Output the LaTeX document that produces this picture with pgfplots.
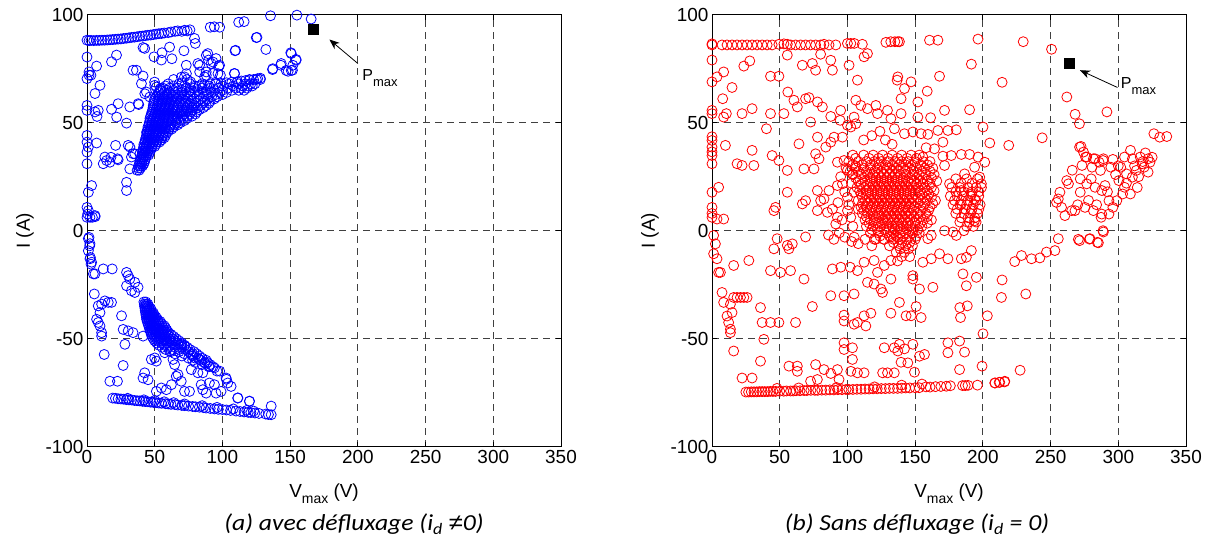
\documentclass[border=0pt]{standalone}
\usepackage{fontspec}
\setmainfont{Liberation Sans}
\newfontfamily\capfont{Carlito}
\newfontfamily\neqfont{Liberation Sans}
\usepackage{pgfplots}
\pgfplotsset{compat=1.18}
\usetikzlibrary{arrows.meta}

\pgfplotsset{
  myax/.style={
    scale only axis, width=474bp, height=432bp, anchor=south west,
    xmin=0, xmax=350, ymin=-100, ymax=100,
    xtick={0,50,100,150,200,250,300,350}, ytick={-100,-50,0,50,100},
    grid=major,
    major grid style={black!75, line width=0.8bp, dash pattern=on 7bp off 5bp},
    axis line style={line width=1bp},
    tick style={black, line width=0.8bp},
    tick align=inside, major tick length=5bp,
    ticklabel style={font=\fontsize{19}{19}\selectfont},
    /pgf/number format/assume math mode=true,
    xlabel={V\raisebox{-6bp}{\fontsize{14}{14}\selectfont max} (V)},
    ylabel={I (A)},
    label style={font=\fontsize{19}{19}\selectfont},
    x label style={at={(axis description cs:0.5,-0.078)}, anchor=north},
    y label style={at={(axis description cs:-0.131,0.5)}, anchor=center, rotate=0},
    clip=false,
  },
  pts/.style={only marks, mark=o, mark size=5bp, mark options={line width=0.8bp, draw=#1}},
}

\begin{document}
\begin{tikzpicture}
\path[use as bounding box] (0bp,0bp) rectangle (1215bp,548bp);

% ---------------- (a) avec defluxage ----------------
\begin{axis}[myax, at={(87bp,101.3bp)}]
\addplot[pts=blue] coordinates {
(0,88.2) (1.5,88) (3,88.1) (5,88) (7,88.1) (9,88.1) (11,88.2) (13,88.2) (15,88.3) (17,88.4) (19,88.5) (21,88.6) (23,88.7) (25,88.8) (27,89) (29,89.1) (31,89.3) (33,89.5) (35,89.6) (37,89.8) (39,90) (41,90.1) (43,90.3) (45,90.5) (47,90.6) (49,90.8) (51,91) (53,91.2) (55,91.3) (57,91.5) (60,91.7) (62,92) (65,92.3) (67,92.5) (70,92.3) (72,92.8) (74,92.5) (76,93) (91,94.2) (94,94.4) (98,94.2) (112,96.5) (116,96.8) (135.5,99.5) (155,99.8) (165.5,98)
(41.4,84.8) (42.6,84.4) (55.4,82.4) (54.9,79) (62.7,79.6) (49.5,80.5) (71.6,83.3) (61,85) (79.4,89) (80,86.7) (89.2,82) (89.7,79) (91.7,77.4) (95.3,79.7) (97.3,76.2) (109.3,83.3) (125.5,89.5) (132.1,83.9) (150.5,82.4) (154.4,79.3) (151.7,74.3) (148.5,73.8) (143.1,76.6) (137,74.6) (108.8,72.8) (98.5,72) (92.9,72.8) (88,73.5) (83.1,76.6) (86.8,71.2) (18.1,78.2) (21.8,81.3) (7.1,76.2) (2.9,72) (1.5,73.5) (9.6,67.3) (5.9,63.5) (34,74.3) (36.5,74.3) (40.2,68.1) (43.9,64.2) (50,67.3) (72,71.2) (70,68.4) (76.5,68.9) (23,58.8) (18.1,56.2) (8.3,55.7) (5.9,55) (7.4,52.9) (31.6,57.3) (38.2,58.4) (29.2,49.8) (7.1,40.6) (21.1,39.5) (30.4,39.5) (35.3,35.6) (32.8,34.1) (13.2,34.1) (16.9,31.7) (22.5,33.3) (12,31) (31.6,28.6) (29.2,22.4) (29.2,18.6) (3.4,20.9) (1,9.3) (5.9,7) (2.2,6.2)
(46.4,61.9) (42.7,63.4) (51.3,66.5) (53.8,65) (37.8,58.8) (21.9,52.6) (44,45.6) (39,35.6) (34.1,35.6) (31.7,38.7) (14.5,32.5) (17.7,34) (23,32.8) (41.4,71.6) (49.9,68.8) (54.2,65.8) (69.7,71.1) (73.4,72.7) (83.2,73.5) (88.1,71.9) (96.7,72.7) (88.1,81.2) (93,78.1) (97.9,76.6) (109,72.7) (125,89.4) (109.7,83.5) (137.2,75) (143.4,77.4) (147.1,74.2) (150.8,74.2) (152,76.6) (154.4,78.9) (150.8,82) (81.9,77.4) (73.3,76.6)
(0,80.4) (0,70.4) (1.5,72) (0,58) (0,55.7) (0,44.1) (0,41) (1,38.7) (0,36.4) (0,31) (1,17.8) (0,10.8) (0.5,7.7) (0,6.2) (4,6.2) (6,6.5) (1.5,-3.1) (2,-7) (2.5,-12.4) (3,-15.5)
(37,28) (38.5,28)
(38,30) (39.5,30) (41,30)
(39,32) (40.5,32) (42.5,32)
(40,34) (41.5,34) (43.5,34)
(41,36) (42.5,36) (44.5,36) (46,36)
(41.5,38) (43,38) (45,38) (47.5,38)
(42,40) (44,40) (46,40) (48.5,40) (51,40)
(43,42) (45,42) (47,42) (49.5,42) (52,42) (55,42)
(44,44) (46,44) (48,44) (50.5,44) (53,44) (56,44) (58,44)
(44.5,46) (46.5,46) (49,46) (51.5,46) (54,46) (57,46) (60,46)
(45,48) (47,48) (49.5,48) (52,48) (55,48) (58,48) (61,48) (64,48)
(46,50) (48,50) (50.5,50) (53,50) (56,50) (59,50) (62,50) (66,50) (69,50)
(46.5,52) (49,52) (51.5,52) (54,52) (57,52) (60,52) (63,52) (67,52) (71,52) (74,52)
(47.5,54) (50,54) (52.5,54) (55,54) (58,54) (61,54) (64,54) (68,54) (72,54) (76,54) (80,54)
(48.5,56) (51,56) (54,56) (57,56) (60,56) (63,56) (66,56) (70,56) (74,56) (78,56) (83,56)
(49,58) (52,58) (55,58) (58,58) (61,58) (64,58) (67,58) (71,58) (75,58) (79,58) (84,58) (88,58)
(49.5,60) (53,60) (56,60) (59,60) (62,60) (65,60) (69,60) (73,60) (77,60) (82,60) (87,60) (91,60)
(51,62) (54,62) (57,62) (60,62) (64,62) (68,62) (72,62) (76,62) (81,62) (86,62) (92,62) (96,62)
(53,64) (57,64) (61,64) (65,64) (70,64) (75,64) (80,64) (86,64) (92,64) (98,64) (103,64)
(56,66) (61,66) (67,66) (73,66) (79,66) (85,66) (91,66) (97,66) (104,66) (110,66) (114,66) (118,66)
(60,68) (68,68) (76,68) (85,68) (95,68) (105,68) (112,68) (117,68) (121,68) (124,68)
(64,70) (74,70) (120,70) (125,70) (128,70)
(38,29) (39.5,29)
(38.8,31) (40.5,31) (42,31)
(39.8,33) (41.2,33) (43,33)
(40.6,35) (42,35) (44,35) (45.5,35)
(41.3,37) (43,37) (45,37) (46.8,37)
(42,39) (43.8,39) (45.8,39) (48,39) (50,39)
(42.8,41) (44.8,41) (46.8,41) (49,41) (51.5,41) (53.5,41)
(43.5,43) (45.5,43) (47.5,43) (50,43) (52.5,43) (55,43) (57,43)
(44.3,45) (46.3,45) (48.5,45) (51,45) (53.5,45) (56,45) (58.5,45)
(45,47) (47,47) (49.3,47) (51.8,47) (54.5,47) (57.5,47) (60.5,47) (62.5,47)
(45.8,49) (47.8,49) (50,49) (52.5,49) (55.5,49) (58.5,49) (61.5,49) (64.5,49) (67,49)
(46.5,51) (48.5,51) (51,51) (53.5,51) (56.5,51) (59.5,51) (62.5,51) (65.5,51) (69,51) (72,51)
(47,53) (49.5,53) (52,53) (54.5,53) (57.5,53) (60.5,53) (63.5,53) (66.5,53) (70,53) (74,53) (77.5,53)
(48,55) (50.5,55) (53,55) (56,55) (59,55) (62,55) (65,55) (69,55) (73,55) (77,55) (81,55)
(48.8,57) (51.5,57) (54.5,57) (57.5,57) (60.5,57) (63.5,57) (66.5,57) (70,57) (74,57) (78,57) (82,57) (86,57)
(49.3,59) (52.5,59) (55.5,59) (58.5,59) (61.5,59) (64.5,59) (68,59) (72,59) (76,59) (80.5,59) (85.5,59) (90,59)
(50,61) (53.5,61) (56.5,61) (59.5,61) (63,61) (66.5,61) (70.5,61) (74.5,61) (79,61) (84,61) (89,61) (94,61)
(52,63) (55.5,63) (59,63) (63,63) (67,63) (72,63) (77,63) (83,63) (89,63) (95,63) (100,63)
(54.5,65) (59,65) (64,65) (70,65) (76,65) (82,65) (88,65) (94,65) (100,65) (107,65) (112,65) (116,65)
(58,67) (64,67) (72,67) (80,67) (90,67) (100,67) (108,67) (115,67) (119,67) (122,67)
(83,67) (87,67.5) (91,68) (95,68) (99,68.2) (103,68.5) (107,68.8) (111,69) (114,69.3) (117,69.5) (120,69.8) (123,70) (126,70.4) (128,70.6)
(1,-3.7) (2.2,-6) (1,-9.3) (2.2,-13) (3.4,-14.6) (4.7,-20) (5.9,-20) (12,-17.7) (18.6,-17.7) (29.2,-19.3) (30.4,-20.8) (31.6,-22.4) (35.3,-23.9) (37.7,-26.2) (29.2,-25.5) (32.8,-27.8) (35.3,-28.6) (5.4,-29.3) (8.3,-34.8) (13.2,-32.5) (15.7,-33.2) (18.1,-33.2) (10.8,-34) (9.6,-37.9) (8.3,-42.5) (9.6,-44.1) (10.8,-47.2) (10.8,-48.8) (7.1,-41) (25.5,-39.4) (26.7,-45.7) (30.4,-46.4) (34,-47.2) (41.4,-48.8) (28,-52.6) (12.7,-57.3) (26.7,-62.4) (16.9,-69.7) (22.5,-69.7)
(47.5,-59.6) (50,-58.9) (51.2,-60.4) (57.4,-56.5) (61,-55.7) (63.5,-59.6) (64.7,-62) (69.6,-52.6) (72,-53.4) (77,-57.3) (79.4,-58.9) (83.1,-59.6) (86.8,-61.2) (90.4,-62.7) (94.1,-63.5) (77,-64.3) (81.9,-65.8) (85.5,-65.8) (90.4,-70.5) (94.1,-71.3) (95.3,-75.2) (65.9,-67.4) (69.6,-69.7) (62.3,-71.3) (58.6,-73.6) (54.9,-72.8) (51.2,-74.4) (72,-74.4) (75.7,-74.4) (42.6,-65.8) (45.1,-69) (41.4,-68.2) (67.2,-66.6) (84.3,-71.3) (85.5,-73.6) (88,-75.2) (102.7,-68.2) (106.4,-72.1) (103.9,-70.5) (111.3,-77.5) (119.9,-79) (99,-74.4) (102.9,-68.8) (111.4,-77.4) (120,-78.9) (136,-81.2)
(42,-33) (43.5,-33)
(42.5,-35) (44,-35) (45.5,-35)
(43,-37) (44.5,-37) (46,-37) (47.5,-37)
(43.5,-39) (45,-39) (46.5,-39) (48,-39) (49.5,-39)
(44,-41) (45.5,-41) (47,-41) (48.5,-41) (50,-41) (52,-41)
(45,-43) (46.5,-43) (48,-43) (49.5,-43) (51,-43) (53,-43) (55,-43)
(46,-45) (47.5,-45) (49,-45) (50.5,-45) (52,-45) (54,-45) (56,-45) (58,-45)
(47,-47) (48.5,-47) (50,-47) (52,-47) (54,-47) (56,-47) (58,-47) (60,-47)
(48,-49) (50,-49) (52,-49) (54,-49) (56,-49) (58,-49) (61,-49) (64,-49)
(50,-51) (53,-51) (56,-51) (59,-51) (62,-51) (65,-51) (68,-51)
(53,-53) (57,-53) (61,-53) (65,-53) (69,-53) (72,-53)
(58,-55) (63,-55) (68,-55) (73,-55) (76,-55)
(65,-57) (72,-57) (78,-57) (81,-57)
(75,-59) (82,-59) (85,-59)
(80,-61) (87,-61) (89,-61)
(90,-63) (93,-63)
(96,-65) (98,-65)
(42.3,-34) (43.8,-34) (45,-34)
(42.8,-36) (44.3,-36) (45.8,-36) (47,-36)
(43.3,-38) (44.8,-38) (46.3,-38) (47.8,-38) (49,-38)
(43.8,-40) (45.3,-40) (46.8,-40) (48.3,-40) (49.8,-40) (51,-40)
(44.5,-42) (46,-42) (47.5,-42) (49,-42) (50.5,-42) (52.5,-42) (54,-42)
(45.5,-44) (47,-44) (48.5,-44) (50,-44) (51.5,-44) (53.5,-44) (55.5,-44) (57,-44)
(46.5,-46) (48,-46) (49.5,-46) (51,-46) (53,-46) (55,-46) (57,-46) (59,-46)
(47.5,-48) (49,-48) (51,-48) (53,-48) (55,-48) (57,-48) (59.5,-48) (62,-48)
(49,-50) (51.5,-50) (54.5,-50) (57.5,-50) (60.5,-50) (63.5,-50) (66,-50)
(51.5,-52) (55,-52) (59,-52) (63,-52) (67,-52) (70,-52)
(55.5,-54) (60,-54) (65,-54) (70,-54) (74,-54)
(62,-56) (68,-56) (75,-56) (79,-56)
(70,-58) (78,-58) (83,-58)
(78,-60) (84,-60) (88,-60)
(85,-62) (91,-62)
(19,-77.5) (21,-77.6) (23,-77.8) (25,-77.9) (27,-78) (29,-78.2) (31,-78.3) (33,-78.4) (35,-78.6) (37,-78.7) (39,-78.8) (41,-79) (43,-79.1) (45,-79.2) (47,-79.4) (49,-79.5) (51,-79.6) (53,-79.8) (55,-79.9) (58,-80.1) (60,-80.2) (62,-80.4) (65,-80.5) (67,-80.7) (70,-80.9) (72,-81) (75,-81.2) (78,-81.4) (80,-81.5) (83,-81.7) (86,-81.9) (88,-82.1) (91,-82.3) (94,-82.5) (97,-82.7) (100,-82.8) (103,-83) (106,-83.2) (110,-83.5) (113,-83.7) (116,-83.9) (119,-84.1) (121,-84.2) (124,-84.4) (127,-84.6) (132,-84.9) (134,-85.1) (136,-85.2)
(50,-78.6) (64,-79.6) (85,-81) (108,-82.5) (123,-83.5) (30,-77.6) (42,-78.3) (57,-79.2) (72,-80.2) (96,-81.8) (118,-83.2)
};
\addplot[only marks, mark=square*, mark size=5bp, mark options={fill=black, draw=black}] coordinates {(167.3,93.1)};
\draw[-{Stealth[length=10bp,width=8bp,inset=3bp]}, line width=0.8bp] (axis cs:200,77.4) -- (axis cs:179,88.5);
\node[anchor=base west, inner sep=0pt, font=\fontsize{16}{16}\selectfont] at (axis cs:203.2,69.6) {P\raisebox{-6bp}{\fontsize{13}{13}\selectfont max}};
\end{axis}

% ---------------- (b) sans defluxage ----------------
\begin{axis}[myax, at={(712bp,101.3bp)}]
\addplot[pts=red] coordinates {
(0,86) (0,86.5) (7.4,86) (11.1,86) (14.8,86) (18.5,86) (22.2,86) (25.9,86) (29.6,86) (33.3,86) (37,86) (40.7,86) (44.4,86) (49.4,86.3) (53.1,86.5) (55.6,86.3) (58,86) (61.7,86) (65.4,86) (69.1,86) (72.8,86) (76.5,86) (80.2,86) (82.7,86.3) (86.4,86) (91.4,86) (100,86.7) (102.5,86.7) (105,86.7) (111,86.3) (128.4,87.2) (132,87.5) (135,87.5) (137.2,87.5) (138.4,87.5) (160.6,88.2) (166.8,88.2) (196.4,88.7) (229.8,87.5) (250.7,84)
(0,79) (0,68.9) (0,55.7) (0,54.2) (0,41.8) (0,38.7) (0,34.8) (0,31) (0,17.8) (0,10.8) (0,6.2) (3.7,5.4) (8.6,5.4) (0,43.5) (0,36.5) (0,8)
(3.7,71.2) (8.6,73.5) (14.8,66.3) (7.9,61.1) (10.6,54.2) (8.6,52.6) (23.5,76.2) (27.9,78.6) (43.2,71.5) (49.4,71.5) (56,64.2) (60.5,60.4) (63,57.3) (69.1,61.1) (71.6,61.6) (77.9,59.6) (81.5,57.3) (55.6,81.3) (66.7,76.6) (74.1,77.4) (76.5,74.3) (80.2,81.7) (87.7,78.9) (88.9,74.3) (101.2,76.6) (112.3,80.5) (114.8,82) (107.4,69.7) (22.2,54.2) (29.6,56.5) (43.2,54.2) (53.1,54.2) (40.2,47.2) (72.8,50.3) (87.7,52.9) (95,55.7) (94.6,51.1) (104.9,52.6) (106.2,60.4) (109.9,58) (114.8,56.5) (121,58) (122.2,54.2) (102.5,48) (100,48.8) (106.2,49.5) (129.6,55.7) (132.1,51.9) (9.9,39.5) (18.5,31) (22.2,30.2) (30.9,30.2) (29.6,37.2) (64.2,40.2) (44.4,34.8) (49.4,32.5) (55.6,27.9) (67.9,28.6) (75.3,28.6) (79,33.3) (76.5,35.6) (77.9,43.3) (84,38.7) (87.7,41) (90.1,43.3) (96.3,43.3) (92.6,31.7) (97.5,32.5) (100,27.9) (103.7,26.3) (4.9,20.1) (55.6,17.8) (46.9,10.8) (45.7,9.3) (69.1,13.9) (66.7,12.4) (77.8,18.6) (80.2,13.9) (82.7,14.7) (86.4,18.6) (77.8,9.3) (85.2,8.5) (88.9,10) (92.6,6.2) (91.4,3.1) (100,15.5) (104.9,17.8) (100,9.3) (102.5,6.2) (92.6,20.9) (96.3,21.7)
(137.2,71.2) (136.7,69.7) (142.1,65.8) (147,68.9) (139.6,61.1) (139.6,54.2) (152,59.6) (158.9,64.6) (168,71.5) (171.7,55.7) (190.2,56) (152,52.6) (161.4,52.3) (191.5,77.1) (214.2,68.7) (200.1,48) (205.1,40.6) (219.1,39.5) (243.8,43) (134.7,47.2) (142.1,44.9) (148.3,45.7) (154.4,44.9) (159.4,44.6) (166.8,46.4) (174.2,46.4) (180.4,46.7) (170.5,41) (164.3,37.9) (158.1,38.4) (155.7,34.1) (170.5,34.5) (176.7,34.8) (184.1,35.3) (190.2,35.3) (196.4,34.1) (201.4,31.7) (171.7,30.2) (186.5,26.3) (193.9,29.4) (197.7,24.8) (198.9,21.7) (175.4,21.7) (184.1,18.6) (191.5,17) (193.9,14.7) (184.1,12.4) (191.5,9.3) (193.9,4.6) (262,61.9) (268.1,53.9) (271.3,49.5) (291.6,55)
(118,44) (124,46) (128,42) (133,40) (112,42)
(104,35) (112,35) (119,35) (126,35) (133,35) (140,35) (147,35) (153,35)
(101,32) (108,32) (114,32) (120,32) (125,32) (130,32) (135,32) (140,32) (145,32) (150,32) (156,32) (161,32)
(99,29) (106,29) (112,29) (117,29) (122,29) (127,29) (131,29) (136,29) (141,29) (146,29) (151,29) (157,29) (163,29)
(104,26) (110,26) (115,26) (119,26) (123,26) (127,26) (131,26) (135,26) (139,26) (143,26) (148,26) (153,26) (158,26) (164,26)
(108,23) (113,23) (117,23) (121,23) (125,23) (129,23) (133,23) (137,23) (141,23) (145,23) (149,23) (154,23) (159,23) (166,23)
(107,20) (112,20) (116,20) (120,20) (124,20) (128,20) (132,20) (136,20) (140,20) (144,20) (148,20) (152,20) (157,20) (162,20)
(110,17) (114,17) (118,17) (122,17) (126,17) (130,17) (134,17) (138,17) (142,17) (146,17) (150,17) (155,17) (160,17)
(108,14) (113,14) (117,14) (121,14) (125,14) (129,14) (133,14) (137,14) (141,14) (145,14) (149,14) (154,14) (159,14) (165,14)
(110,11) (114,11) (118,11) (122,11) (126,11) (130,11) (134,11) (138,11) (142,11) (146,11) (150,11) (156,11) (161,11)
(111,8) (115,8) (119,8) (123,8) (127,8) (131,8) (135,8) (139,8) (143,8) (147,8) (152,8) (158,8)
(113,5) (117,5) (121,5) (126,5) (130,5) (134,5) (138,5) (142,5) (146,5) (151,5) (156,5) (162,5)
(114,2) (119,2) (124,2) (129,2) (133,2) (137,2) (141,2) (146,2) (150,2) (155,2)
(117,-1) (123,-1) (129,-1) (134,-1) (139,-1) (143,-1) (148,-1) (153,-1)
(120,-4) (127,-4) (134,-4) (139,-4) (144,-4) (150,-4)
(131,-7) (138,-7) (143,-7) (148,-7)
(136,-10) (142,-10)
(106,33.5) (116,33.5) (123,33.5) (130,33.5) (137,33.5) (144,33.5) (151,33.5)
(104,30.5) (111,30.5) (117,30.5) (123,30.5) (128,30.5) (133,30.5) (138,30.5) (143,30.5) (148,30.5) (154,30.5) (159,30.5)
(102,27.5) (108,27.5) (114,27.5) (120,27.5) (125,27.5) (129,27.5) (133,27.5) (138,27.5) (143,27.5) (149,27.5) (155,27.5) (161,27.5)
(106,24.5) (112,24.5) (117,24.5) (121,24.5) (125,24.5) (129,24.5) (133,24.5) (137,24.5) (141,24.5) (146,24.5) (151,24.5) (156,24.5) (162,24.5)
(110,21.5) (115,21.5) (119,21.5) (123,21.5) (127,21.5) (131,21.5) (135,21.5) (139,21.5) (143,21.5) (147,21.5) (151,21.5) (156,21.5) (161,21.5)
(109,18.5) (114,18.5) (118,18.5) (122,18.5) (126,18.5) (130,18.5) (134,18.5) (138,18.5) (142,18.5) (146,18.5) (150,18.5) (154,18.5) (159,18.5) (164,18.5)
(111,15.5) (116,15.5) (120,15.5) (124,15.5) (128,15.5) (132,15.5) (136,15.5) (140,15.5) (144,15.5) (148,15.5) (152,15.5) (157,15.5) (162,15.5)
(111,12.5) (115,12.5) (119,12.5) (123,12.5) (127,12.5) (131,12.5) (135,12.5) (139,12.5) (143,12.5) (147,12.5) (152,12.5) (157,12.5) (163,12.5)
(112,9.5) (117,9.5) (121,9.5) (125,9.5) (129,9.5) (133,9.5) (137,9.5) (141,9.5) (145,9.5) (149,9.5) (154,9.5) (160,9.5)
(114,6.5) (119,6.5) (123,6.5) (128,6.5) (132,6.5) (136,6.5) (140,6.5) (144,6.5) (149,6.5) (154,6.5) (159,6.5)
(116,3.5) (121,3.5) (125,3.5) (129,3.5) (133,3.5) (137,3.5) (141,3.5) (145,3.5) (150,3.5) (154,3.5) (159,3.5)
(118,0.5) (122,0.5) (127,0.5) (131,0.5) (135,0.5) (139,0.5) (144,0.5) (148,0.5) (152,0.5)
(124,-2.5) (131,-2.5) (136,-2.5) (141,-2.5) (146,-2.5) (151,-2.5)
(134,-5.5) (140,-5.5) (146,-5.5)
(139,-8.5) (145,-8.5) (140,-12) (146,-12) (137,-14)
(180,24) (188,24) (196,24)
(177,20) (183,20) (189,20) (195,20) (199,20)
(176,16) (181,16) (186,16) (191,16) (197,16)
(178,12) (183,12) (188,12) (193,12) (198,12)
(180,8) (186,8) (191,8) (196,8)
(183,4) (190,4) (195,4)
(186,0)
(184,22) (192,22) (180,18) (186,18) (192,18) (197,18) (179,14) (184,14) (189,14) (195,14) (181,10) (187,10) (192,10) (197,10) (184,6) (189,6) (194,6) (188,2) (193,2)
(86,-2) (90,-4) (94,-1) (98,-3) (103,-5) (105,-3) (108,-6) (113,-4) (118,-7) (121,-4) (127,-4) (132,-3) (137,-3)
(95,25) (98,18) (101,12) (103,22) (106,30) (108,10) (104,2) (96,5) (93,13)
(326.3,44.9) (330.6,43.3) (335.8,43.6) (309,37.2) (304.6,34.1) (310.4,33.3) (316.2,34.1) (322,33.3) (323.4,31.7) (317.6,31) (301.8,29.4) (306.1,26.3) (310.4,24.8) (313.3,27.9) (319.1,29.4) (322,27.1) (300.4,23.2) (304.6,20.1) (308.9,17) (303.2,17) (298.9,13.9) (293.1,13.9) (296,10.8) (293.1,7.7) (287.3,6.2) (290.2,20.9) (294.5,29.4) (288.7,32.5) (281.6,33.3) (275.8,34.1) (271.4,38.7) (274.3,36.4) (272.5,39) (276.7,34.1) (282.8,33.3) (285.8,31.7) (289,33.3) (273.2,30.2) (280.6,29.4) (286.8,27.9) (271.9,24) (261.9,23.2) (263.2,21.7) (271.9,17.8) (276.7,21.7) (282.8,20.1) (287.8,18.6) (256.9,17.8) (255.7,14.7) (254.4,13.1) (258.1,10.8) (265.6,9.3) (260.6,7) (268,9.3) (275.4,10.8) (281.6,9.3) (287.8,7.7) (288.7,0)
(312,30) (318,32) (325,34) (320,36) (314,20) (306,22) (298,26) (278,14) (284,12) (292,18) (270,12) (300,30) (315,25) (296,33) (280,24) (266,28)
(278.7,-3.9) (284.5,-5.4) (271.4,-4.6) (255.7,-3.7) (270.5,-4) (279.1,-3.7) (285.3,-5.6) (289,-0.6) (253.2,-9.2) (247,-9.9) (242.1,-12.6) (235.9,-13) (228.5,-11.5) (223.5,-14.3) (214.2,-22.8) (213.7,-30.9) (231.7,-29.3) (203.3,-39.4) (200.1,-47.7) (199.4,-62.7) (227.5,-64.6) (208.8,-70.5) (212.5,-70.2) (216.2,-69.7)
(182.8,-64.3) (186.5,-56.2) (174.2,-51.9) (174.2,-56.5) (182.8,-51.1) (149.5,-65.5) (144.6,-61.2) (139.6,-60.9) (156.9,-57.3) (153.2,-58.1) (148.3,-52.6) (138.4,-52.6) (137.2,-55.7) (142.1,-54.7) (183.5,-40.2) (188.5,-34.8) (183,-35.6) (154.4,-40.2) (147,-39.4) (143.3,-39.4) (150.7,-35.1) (138.4,-33.2) (148.3,-20.8) (153.2,-27) (163.1,-26.2) (148.3,-22.4) (185.3,-20) (187.8,-25.5) (195.2,-21.6) (184.1,-13) (187.8,-12.3) (191.5,-9.2) (174.2,-13) (168,-10.7) (161.9,-13) (155.7,-14.6) (171.7,0) (177.9,-0.6) (180.4,-2.2) (161.9,-2.2) (159.4,-3.7)
(1.2,-2.2) (2.5,-6.1) (1.2,-10.7) (3.7,-13) (4.9,-19.3) (6.2,-19.3) (7.4,-28.6) (8.6,-33.2) (16,-30.9) (18.5,-30.9) (21,-30.9) (23.5,-30.9) (25.9,-30.9) (13.6,-34) (11.1,-39.5) (12.3,-42.5) (13.6,-45.6) (13.6,-47.2) (16,-55.7) (14.8,-37.9) (16,-16.1) (27.2,-13.8) (35.8,-35.6) (37,-42.5) (43.2,-42.5) (49.4,-42.5) (38.3,-50.3) (35.8,-60.4) (22.2,-68.2) (29.6,-68.2) (43.2,-18.5) (50.6,-19.3) (58,-18.5) (45.7,-8.4) (48.1,-3.7) (55.6,-6.8) (56.8,-8.4) (59.3,-6.1) (69.1,-2.9) (67.9,-22.4) (74.1,-35.1) (61.7,-42.5) (56.8,-62.7) (63,-62.7) (63,-65.1) (76.5,-62) (82.7,-64.3) (77.8,-68.9) (72.8,-69.7) (92.6,-64.3) (93.8,-68.9) (87.7,-66.1) (102.5,-65.1) (107.4,-65.8) (112.3,-65.8) (88.9,-17.7) (95.1,-16.9) (102,-16.9) (107.4,-18.5) (87.7,-30.1) (97.5,-30.1) (104.9,-29.3) (112.3,-14.6) (119.7,-13.8) (122.2,-19.3) (127.2,-16.1) (132.1,-13.8) (132.1,-22.4) (114.8,-23.9) (119.7,-24.7) (124.7,-27) (125.9,-28.6) (97.5,-39.1) (97.5,-41.8) (104.9,-43.3) (112.3,-39.4) (113.6,-44.1) (107.4,-42.5) (117.3,-38.2) (132.1,-38.2) (127.2,-54.2) (134.6,-54.2) (97.5,-51.9) (103.7,-54.2) (103.7,-59.6) (97.5,-55) (126,-65.8) (129.6,-65.8) (134.6,-65.8)
(25,-74.7) (27,-74.7) (29,-74.6) (31,-74.6) (33,-74.6) (35,-74.5) (37,-74.5) (39,-74.5) (41,-74.5) (43,-74.4) (45,-74.4) (47,-74.4) (50,-74.3) (53,-74.3) (55,-74.2) (58,-74.2) (60,-74.2) (62,-74.1) (65,-74.1) (68,-74) (70,-74) (73,-73.9) (76,-73.9) (78,-73.9) (81,-73.8) (84,-73.8) (87,-73.7) (90,-73.7) (93,-73.6) (96,-73.6) (99,-73.5) (101,-73.5) (104,-73.5) (107,-73.4) (110,-73.4) (113,-73.3) (116,-73.3) (119,-73.2) (122,-73.2) (125,-73.1) (128,-73.1) (131,-73) (134,-73) (137,-73) (140,-72.9) (143,-72.8) (146,-72.8) (150,-72.7) (153,-72.7) (158,-72.3) (161,-72.4) (165,-72.2) (169,-72.1) (173,-72) (176,-71.8) (185,-71.7) (187,-71.7) (189,-71.6) (196,-71.5) (209,-70.5) (212,-70.2) (216,-70)
(48,-73) (64,-72.8) (92,-72.6) (120,-72.3) (140,-71.5) (155,-71)
};
\addplot[only marks, mark=square*, mark size=5bp, mark options={fill=black, draw=black}] coordinates {(264.1,77.4)};
\draw[-{Stealth[length=10bp,width=8bp,inset=3bp]}, line width=0.8bp] (axis cs:299.4,66.3) -- (axis cs:271.7,74.3);
\node[anchor=base west, inner sep=0pt, font=\fontsize{16}{16}\selectfont] at (axis cs:301.8,65.8) {P\raisebox{-6bp}{\fontsize{13}{13}\selectfont max}};
\end{axis}

\node[font=\capfont\itshape\fontsize{23}{23}\selectfont, xscale=1.12] at (354bp,24bp) {(a) avec défluxage (i\textsubscript{d} {\neqfont\itshape ≠}0)};
\node[font=\capfont\itshape\fontsize{23}{23}\selectfont, xscale=1.12] at (917bp,24bp) {(b) Sans défluxage (i\textsubscript{d} = 0)};
\end{tikzpicture}
\end{document}
